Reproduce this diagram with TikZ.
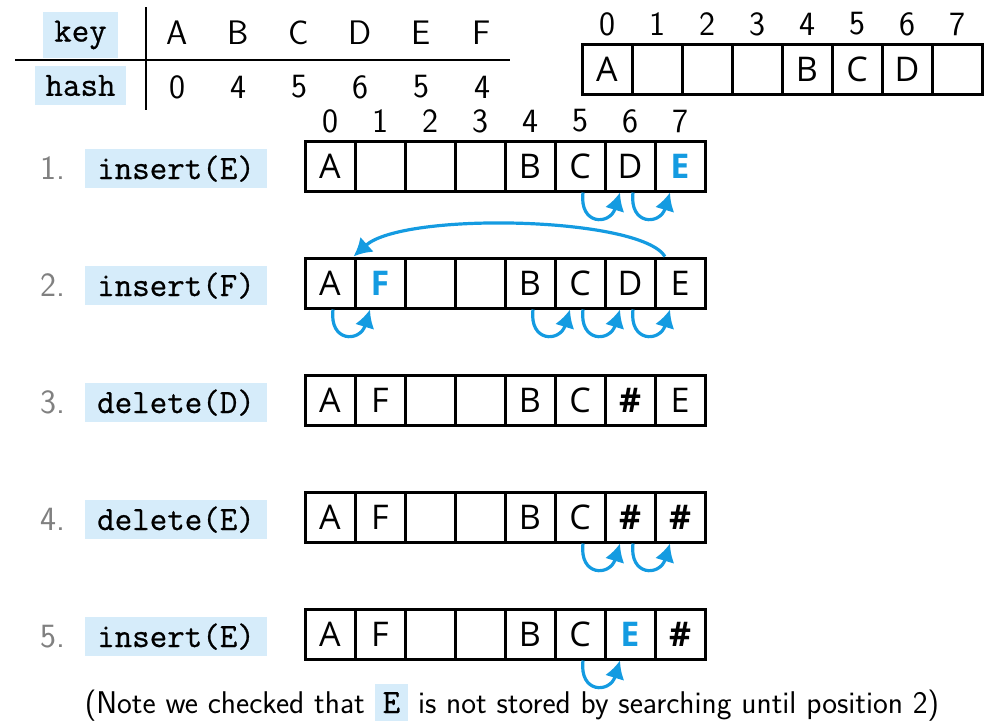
\documentclass[tikz,border=0pt]{standalone}
\usepackage{fontspec}
\newfontfamily\cellfont{Open Sans}
\newfontfamily\codefont{Latin Modern Mono}[FakeBold=0.7]
\usetikzlibrary{arrows.meta}

\definecolor{probeblue}{RGB}{20,155,225}
\definecolor{codebg}{RGB}{214,236,250}
\definecolor{stepgray}{RGB}{128,128,128}

\newcommand{\newkey}[1]{\textcolor{probeblue}{\bfseries #1}}
\newcommand{\tomb}{\textbf{\#}}
\newcommand{\bigfont}{\fontsize{17}{20}\selectfont}

\tikzset{
  cell/.style={draw, line width=1.5pt, minimum width=25pt, minimum height=25pt, inner sep=0pt, font=\cellfont\bigfont},
  code/.style={fill=codebg, inner xsep=6pt, inner ysep=3pt, font=\codefont\bigfont},
  head/.style={fill=codebg, inner xsep=5.4pt, inner ysep=4.5pt, font=\codefont\bigfont},
  entry/.style={font=\sffamily\bigfont},
  stepnum/.style={text=stepgray, anchor=base, font=\sffamily\bigfont},
  probe/.style={-{Latex[length=9pt,width=10pt]}, line width=1.6pt, probeblue},
}

\begin{document}
\begin{tikzpicture}[x=0.5pt, y=-0.5pt]
    \useasboundingbox (0,0) rectangle (998,724);

    % Hash table of the keys
    \node[head] (key) at (80.5,35) {key};
    \node[head] (hash) at (80.5,85.5) {hash};
    \draw[line width=0.8pt] (15,60) -- (510,60);
    \draw[line width=0.8pt] (146,7) -- (146,110);
    \foreach \k/\h [count=\i from 0] in {A/0,B/4,C/5,D/6,E/5,F/4} {
        \node[entry] (k\i) at (177+61*\i,33) {\k};
        \node[entry] (h\i) at (177+61*\i,87) {\h};
    }

    % Starting table
    \foreach \v [count=\i from 0] in {A,{},{},{},B,C,D,{}} {
        \node[cell] (t\i) at (607+50*\i,69) {\v};
        \node[entry] (ti\i) at (607+50*\i,24) {\i};
    }

    % Step 1
    \node[stepnum] (n1) at (53,179) {1.};
    \node[code, anchor=base] (op1) at (176,179) {insert(E)};
    \foreach \v [count=\i from 0] in {A,{},{},{},B,C,D,\newkey{E}} {
        \node[cell] (r1c\i) at (330+50*\i,166) {\v};
        \node[entry] (r1i\i) at (330+50*\i,121) {\i};
    }
    \draw[probe] ([xshift=1.5pt]r1c5.south) .. controls +(-4,33) and +(-10,33) .. ([xshift=-5pt]r1c6.south);
    \draw[probe] ([xshift=1.5pt]r1c6.south) .. controls +(-4,33) and +(-10,33) .. ([xshift=-5pt]r1c7.south);

    % Step 2
    \node[stepnum] (n2) at (53,296) {2.};
    \node[code, anchor=base] (op2) at (176,296) {insert(F)};
    \foreach \v [count=\i from 0] in {A,\newkey{F},{},{},B,C,D,E}
        \node[cell] (r2c\i) at (330+50*\i,283) {\v};
    \draw[probe] ([xshift=-7.5pt]r2c7.north) .. controls +(-25,-40) and +(50,-45) .. (r2c1.north west);
    \draw[probe] ([xshift=1.5pt]r2c0.south) .. controls +(-4,33) and +(-10,33) .. ([xshift=-5pt]r2c1.south);
    \foreach \a/\b in {4/5,5/6,6/7}
        \draw[probe] ([xshift=1.5pt]r2c\a.south) .. controls +(-4,33) and +(-10,33) .. ([xshift=-5pt]r2c\b.south);

    % Step 3
    \node[stepnum] (n3) at (53,413) {3.};
    \node[code, anchor=base] (op3) at (176,413) {delete(D)};
    \foreach \v [count=\i from 0] in {A,F,{},{},B,C,\tomb,E}
        \node[cell] (r3c\i) at (330+50*\i,400) {\v};

    % Step 4
    \node[stepnum] (n4) at (53,530) {4.};
    \node[code, anchor=base] (op4) at (176,530) {delete(E)};
    \foreach \v [count=\i from 0] in {A,F,{},{},B,C,\tomb,\tomb}
        \node[cell] (r4c\i) at (330+50*\i,517) {\v};
    \foreach \a/\b in {5/6,6/7}
        \draw[probe] ([xshift=1.5pt]r4c\a.south) .. controls +(-4,33) and +(-10,33) .. ([xshift=-5pt]r4c\b.south);

    % Step 5
    \node[stepnum] (n5) at (53,647) {5.};
    \node[code, anchor=base] (op5) at (176,647) {insert(E)};
    \foreach \v [count=\i from 0] in {A,F,{},{},B,C,\newkey{E},\tomb}
        \node[cell] (r5c\i) at (330+50*\i,634) {\v};
    \draw[probe] ([xshift=1.5pt]r5c5.south) .. controls +(-4,33) and +(-10,33) .. ([xshift=-5pt]r5c6.south);

    % Remark under the last step
    \node[anchor=base, font=\sffamily\fontsize{15.7}{19}\selectfont] (note) at (512,713)
        {(Note we checked that {\setlength\fboxsep{4pt}\colorbox{codebg}{\codefont\bigfont E}} is not stored by searching until position 2)};
\end{tikzpicture}
\end{document}
